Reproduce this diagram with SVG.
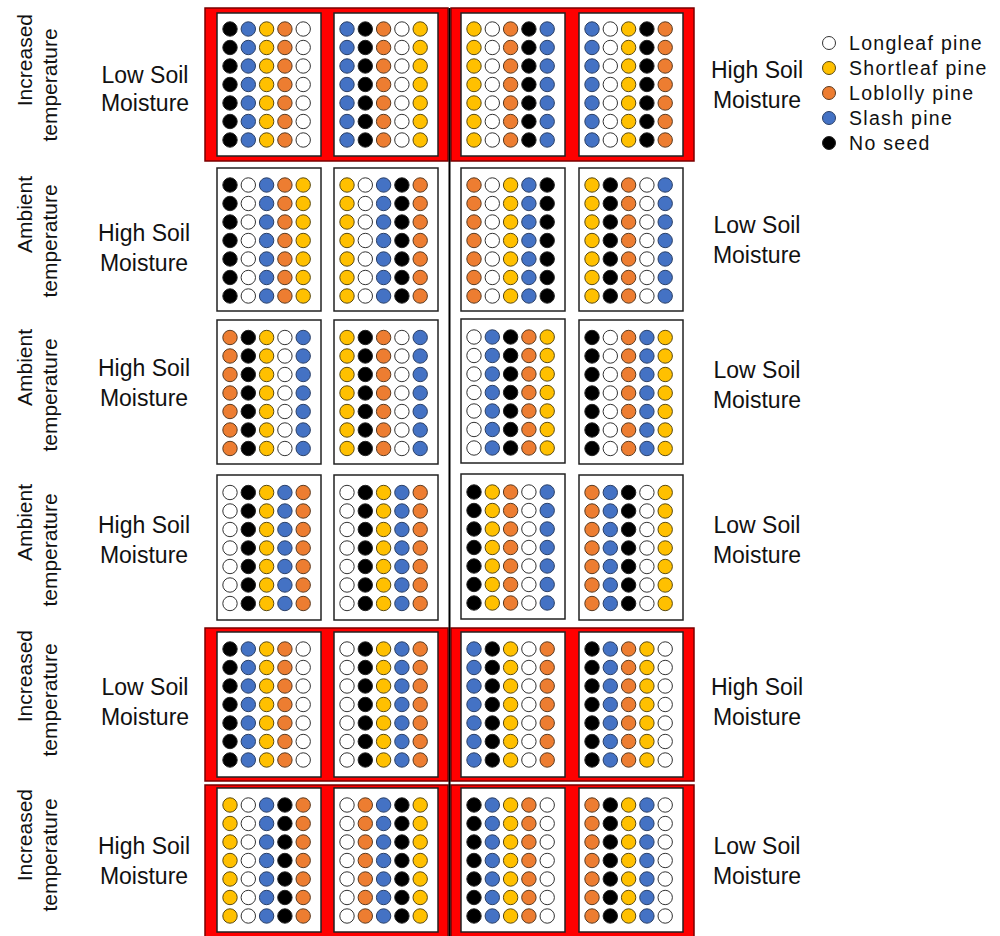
<svg xmlns="http://www.w3.org/2000/svg" xmlns:xlink="http://www.w3.org/1999/xlink" width="1000" height="936" viewBox="0 0 1000 936">
<style>
.bg{fill:#fff}
.red{fill:#ff0000;stroke:#7a0000;stroke-width:1.5}
.box{fill:#fff;stroke:#222;stroke-width:1.5}
.k{fill:#000;stroke:#222;stroke-width:1}
.b{fill:#4472c4;stroke:#2a3f66;stroke-width:1}
.y{fill:#ffc000;stroke:#5a4a10;stroke-width:1}
.o{fill:#ed7d31;stroke:#5a3a20;stroke-width:1}
.w{fill:#fff;stroke:#333;stroke-width:1}
.lbl{font-family:"Liberation Sans",Arial,sans-serif;font-size:23px;fill:#111;text-anchor:middle}
.rot{font-family:"Liberation Sans",Arial,sans-serif;font-size:21px;fill:#111;text-anchor:middle}
.rotE{font-family:"Liberation Sans",Arial,sans-serif;font-size:21px;fill:#111;text-anchor:end}
.leg{font-family:"Liberation Sans",Arial,sans-serif;font-size:19.5px;letter-spacing:1.3px;fill:#111}
</style>
<defs>
<g id="cK"><circle class="k" cx="0" cy="0" r="7.2"/><circle class="k" cx="0" cy="18.5" r="7.2"/><circle class="k" cx="0" cy="37" r="7.2"/><circle class="k" cx="0" cy="55.5" r="7.2"/><circle class="k" cx="0" cy="74" r="7.2"/><circle class="k" cx="0" cy="92.5" r="7.2"/><circle class="k" cx="0" cy="111" r="7.2"/></g>
<g id="cB"><circle class="b" cx="0" cy="0" r="7.2"/><circle class="b" cx="0" cy="18.5" r="7.2"/><circle class="b" cx="0" cy="37" r="7.2"/><circle class="b" cx="0" cy="55.5" r="7.2"/><circle class="b" cx="0" cy="74" r="7.2"/><circle class="b" cx="0" cy="92.5" r="7.2"/><circle class="b" cx="0" cy="111" r="7.2"/></g>
<g id="cY"><circle class="y" cx="0" cy="0" r="7.2"/><circle class="y" cx="0" cy="18.5" r="7.2"/><circle class="y" cx="0" cy="37" r="7.2"/><circle class="y" cx="0" cy="55.5" r="7.2"/><circle class="y" cx="0" cy="74" r="7.2"/><circle class="y" cx="0" cy="92.5" r="7.2"/><circle class="y" cx="0" cy="111" r="7.2"/></g>
<g id="cO"><circle class="o" cx="0" cy="0" r="7.2"/><circle class="o" cx="0" cy="18.5" r="7.2"/><circle class="o" cx="0" cy="37" r="7.2"/><circle class="o" cx="0" cy="55.5" r="7.2"/><circle class="o" cx="0" cy="74" r="7.2"/><circle class="o" cx="0" cy="92.5" r="7.2"/><circle class="o" cx="0" cy="111" r="7.2"/></g>
<g id="cW"><circle class="w" cx="0" cy="0" r="7.2"/><circle class="w" cx="0" cy="18.5" r="7.2"/><circle class="w" cx="0" cy="37" r="7.2"/><circle class="w" cx="0" cy="55.5" r="7.2"/><circle class="w" cx="0" cy="74" r="7.2"/><circle class="w" cx="0" cy="92.5" r="7.2"/><circle class="w" cx="0" cy="111" r="7.2"/></g>
</defs>
<rect class="bg" x="0" y="0" width="1000" height="936"/>

<g id="red-frames">
<rect class="red" x="205" y="8" width="243" height="153"/>
<rect class="red" x="451" y="8" width="243" height="153"/>
<rect class="red" x="205" y="628" width="243" height="153"/>
<rect class="red" x="451" y="628" width="243" height="153"/>
<rect class="red" x="205" y="785" width="243" height="152"/>
<rect class="red" x="451" y="785" width="243" height="152"/>
</g>

<g id="connectors">
<line x1="449.5" y1="8" x2="449.5" y2="936" stroke="#000" stroke-width="2"/>
</g>

<!-- Row 1 -->
<g id="r1b1" transform="translate(217,13)"><rect class="box" width="104" height="143"/><use href="#cK" x="13" y="16"/><use href="#cB" x="31.3" y="16"/><use href="#cY" x="49.6" y="16"/><use href="#cO" x="67.9" y="16"/><use href="#cW" x="86.2" y="16"/></g>
<g id="r1b2" transform="translate(334,13)"><rect class="box" width="104" height="143"/><use href="#cB" x="13" y="16"/><use href="#cK" x="31.3" y="16"/><use href="#cO" x="49.6" y="16"/><use href="#cW" x="67.9" y="16"/><use href="#cY" x="86.2" y="16"/></g>
<g id="r1b3" transform="translate(461,13)"><rect class="box" width="104" height="143"/><use href="#cY" x="13" y="16"/><use href="#cW" x="31.3" y="16"/><use href="#cO" x="49.6" y="16"/><use href="#cK" x="67.9" y="16"/><use href="#cB" x="86.2" y="16"/></g>
<g id="r1b4" transform="translate(579,13)"><rect class="box" width="104" height="143"/><use href="#cB" x="13" y="16"/><use href="#cW" x="31.3" y="16"/><use href="#cY" x="49.6" y="16"/><use href="#cK" x="67.9" y="16"/><use href="#cO" x="86.2" y="16"/></g>

<!-- Row 2 -->
<g id="r2b1" transform="translate(217,168)"><rect class="box" width="104" height="143"/><use href="#cK" x="13" y="17"/><use href="#cW" x="31.3" y="17"/><use href="#cB" x="49.6" y="17"/><use href="#cO" x="67.9" y="17"/><use href="#cY" x="86.2" y="17"/></g>
<g id="r2b2" transform="translate(334,168)"><rect class="box" width="104" height="143"/><use href="#cY" x="13" y="17"/><use href="#cW" x="31.3" y="17"/><use href="#cB" x="49.6" y="17"/><use href="#cK" x="67.9" y="17"/><use href="#cO" x="86.2" y="17"/></g>
<g id="r2b3" transform="translate(461,168)"><rect class="box" width="104" height="143"/><use href="#cO" x="13" y="17"/><use href="#cW" x="31.3" y="17"/><use href="#cY" x="49.6" y="17"/><use href="#cB" x="67.9" y="17"/><use href="#cK" x="86.2" y="17"/></g>
<g id="r2b4" transform="translate(579,168)"><rect class="box" width="104" height="143"/><use href="#cY" x="13" y="17"/><use href="#cK" x="31.3" y="17"/><use href="#cO" x="49.6" y="17"/><use href="#cW" x="67.9" y="17"/><use href="#cB" x="86.2" y="17"/></g>

<!-- Row 3 -->
<g id="r3b1" transform="translate(217,320)"><rect class="box" width="104" height="144"/><use href="#cO" x="13" y="17.5"/><use href="#cK" x="31.3" y="17.5"/><use href="#cY" x="49.6" y="17.5"/><use href="#cW" x="67.9" y="17.5"/><use href="#cB" x="86.2" y="17.5"/></g>
<g id="r3b2" transform="translate(334,320)"><rect class="box" width="104" height="144"/><use href="#cY" x="13" y="17.5"/><use href="#cK" x="31.3" y="17.5"/><use href="#cO" x="49.6" y="17.5"/><use href="#cW" x="67.9" y="17.5"/><use href="#cB" x="86.2" y="17.5"/></g>
<g id="r3b3" transform="translate(461,319)"><rect class="box" width="104" height="144"/><use href="#cW" x="13" y="18"/><use href="#cB" x="31.3" y="18"/><use href="#cK" x="49.6" y="18"/><use href="#cO" x="67.9" y="18"/><use href="#cY" x="86.2" y="18"/></g>
<g id="r3b4" transform="translate(579,320)"><rect class="box" width="104" height="144"/><use href="#cK" x="13" y="17.5"/><use href="#cW" x="31.3" y="17.5"/><use href="#cO" x="49.6" y="17.5"/><use href="#cB" x="67.9" y="17.5"/><use href="#cY" x="86.2" y="17.5"/></g>

<!-- Row 4 -->
<g id="r4b1" transform="translate(217,475)"><rect class="box" width="104" height="145"/><use href="#cW" x="13" y="17.5"/><use href="#cK" x="31.3" y="17.5"/><use href="#cY" x="49.6" y="17.5"/><use href="#cB" x="67.9" y="17.5"/><use href="#cO" x="86.2" y="17.5"/></g>
<g id="r4b2" transform="translate(334,475)"><rect class="box" width="104" height="145"/><use href="#cW" x="13" y="17.5"/><use href="#cK" x="31.3" y="17.5"/><use href="#cY" x="49.6" y="17.5"/><use href="#cB" x="67.9" y="17.5"/><use href="#cO" x="86.2" y="17.5"/></g>
<g id="r4b3" transform="translate(461,474)"><rect class="box" width="104" height="145"/><use href="#cK" x="13" y="18"/><use href="#cY" x="31.3" y="18"/><use href="#cO" x="49.6" y="18"/><use href="#cW" x="67.9" y="18"/><use href="#cB" x="86.2" y="18"/></g>
<g id="r4b4" transform="translate(579,475)"><rect class="box" width="104" height="145"/><use href="#cO" x="13" y="17.5"/><use href="#cB" x="31.3" y="17.5"/><use href="#cK" x="49.6" y="17.5"/><use href="#cW" x="67.9" y="17.5"/><use href="#cY" x="86.2" y="17.5"/></g>

<!-- Row 5 -->
<g id="r5b1" transform="translate(217,632)"><rect class="box" width="104" height="145"/><use href="#cK" x="13" y="17"/><use href="#cB" x="31.3" y="17"/><use href="#cY" x="49.6" y="17"/><use href="#cO" x="67.9" y="17"/><use href="#cW" x="86.2" y="17"/></g>
<g id="r5b2" transform="translate(334,632)"><rect class="box" width="104" height="145"/><use href="#cW" x="13" y="17"/><use href="#cK" x="31.3" y="17"/><use href="#cY" x="49.6" y="17"/><use href="#cB" x="67.9" y="17"/><use href="#cO" x="86.2" y="17"/></g>
<g id="r5b3" transform="translate(461,632)"><rect class="box" width="104" height="145"/><use href="#cB" x="13" y="17"/><use href="#cK" x="31.3" y="17"/><use href="#cY" x="49.6" y="17"/><use href="#cW" x="67.9" y="17"/><use href="#cO" x="86.2" y="17"/></g>
<g id="r5b4" transform="translate(579,632)"><rect class="box" width="104" height="145"/><use href="#cK" x="13" y="17"/><use href="#cB" x="31.3" y="17"/><use href="#cO" x="49.6" y="17"/><use href="#cY" x="67.9" y="17"/><use href="#cW" x="86.2" y="17"/></g>

<!-- Row 6 -->
<g id="r6b1" transform="translate(217,788)"><rect class="box" width="104" height="144"/><use href="#cY" x="13" y="17"/><use href="#cW" x="31.3" y="17"/><use href="#cB" x="49.6" y="17"/><use href="#cK" x="67.9" y="17"/><use href="#cO" x="86.2" y="17"/></g>
<g id="r6b2" transform="translate(334,788)"><rect class="box" width="104" height="144"/><use href="#cW" x="13" y="17"/><use href="#cO" x="31.3" y="17"/><use href="#cB" x="49.6" y="17"/><use href="#cK" x="67.9" y="17"/><use href="#cY" x="86.2" y="17"/></g>
<g id="r6b3" transform="translate(461,788)"><rect class="box" width="104" height="144"/><use href="#cK" x="13" y="17"/><use href="#cB" x="31.3" y="17"/><use href="#cY" x="49.6" y="17"/><use href="#cO" x="67.9" y="17"/><use href="#cW" x="86.2" y="17"/></g>
<g id="r6b4" transform="translate(579,788)"><rect class="box" width="104" height="144"/><use href="#cO" x="13" y="17"/><use href="#cK" x="31.3" y="17"/><use href="#cY" x="49.6" y="17"/><use href="#cB" x="67.9" y="17"/><use href="#cW" x="86.2" y="17"/></g>

<!-- Temperature labels -->
<g id="temp1"><text class="rotE" transform="translate(32,14) rotate(-90)">Increased</text><text class="rot" transform="translate(57,85) rotate(-90)">temperature</text></g>
<g id="temp2"><text class="rotE" transform="translate(32,176) rotate(-90)">Ambient</text><text class="rot" transform="translate(57,241) rotate(-90)">temperature</text></g>
<g id="temp3"><text class="rotE" transform="translate(32,329) rotate(-90)">Ambient</text><text class="rot" transform="translate(57,395) rotate(-90)">temperature</text></g>
<g id="temp4"><text class="rotE" transform="translate(32,484) rotate(-90)">Ambient</text><text class="rot" transform="translate(57,550) rotate(-90)">temperature</text></g>
<g id="temp5"><text class="rotE" transform="translate(32,630) rotate(-90)">Increased</text><text class="rot" transform="translate(57,700) rotate(-90)">temperature</text></g>
<g id="temp6"><text class="rotE" transform="translate(32,789) rotate(-90)">Increased</text><text class="rot" transform="translate(57,855) rotate(-90)">temperature</text></g>

<!-- Left moisture labels -->
<g id="lm1"><text class="lbl" x="145" y="83">Low Soil</text><text class="lbl" x="145" y="111">Moisture</text></g>
<g id="lm2"><text class="lbl" x="144" y="241">High Soil</text><text class="lbl" x="144" y="271">Moisture</text></g>
<g id="lm3"><text class="lbl" x="144" y="376">High Soil</text><text class="lbl" x="144" y="406">Moisture</text></g>
<g id="lm4"><text class="lbl" x="144" y="533">High Soil</text><text class="lbl" x="144" y="563">Moisture</text></g>
<g id="lm5"><text class="lbl" x="145" y="695">Low Soil</text><text class="lbl" x="145" y="725">Moisture</text></g>
<g id="lm6"><text class="lbl" x="144" y="854">High Soil</text><text class="lbl" x="144" y="884">Moisture</text></g>

<!-- Right moisture labels -->
<g id="rm1"><text class="lbl" x="757" y="78">High Soil</text><text class="lbl" x="757" y="108">Moisture</text></g>
<g id="rm2"><text class="lbl" x="757" y="233">Low Soil</text><text class="lbl" x="757" y="263">Moisture</text></g>
<g id="rm3"><text class="lbl" x="757" y="378">Low Soil</text><text class="lbl" x="757" y="408">Moisture</text></g>
<g id="rm4"><text class="lbl" x="757" y="533">Low Soil</text><text class="lbl" x="757" y="563">Moisture</text></g>
<g id="rm5"><text class="lbl" x="757" y="695">High Soil</text><text class="lbl" x="757" y="725">Moisture</text></g>
<g id="rm6"><text class="lbl" x="757" y="854">Low Soil</text><text class="lbl" x="757" y="884">Moisture</text></g>

<!-- Legend -->
<g id="legend">
<circle class="w" cx="829" cy="43" r="6.5"/><text class="leg" x="849" y="50">Longleaf pine</text>
<circle class="y" cx="829" cy="68" r="6.5"/><text class="leg" x="849" y="75">Shortleaf pine</text>
<circle class="o" cx="829" cy="93" r="6.5"/><text class="leg" x="849" y="100">Loblolly pine</text>
<circle class="b" cx="829" cy="118" r="6.5"/><text class="leg" x="849" y="125">Slash pine</text>
<circle class="k" cx="829" cy="143" r="6.5"/><text class="leg" x="849" y="150">No seed</text>
</g>
</svg>
